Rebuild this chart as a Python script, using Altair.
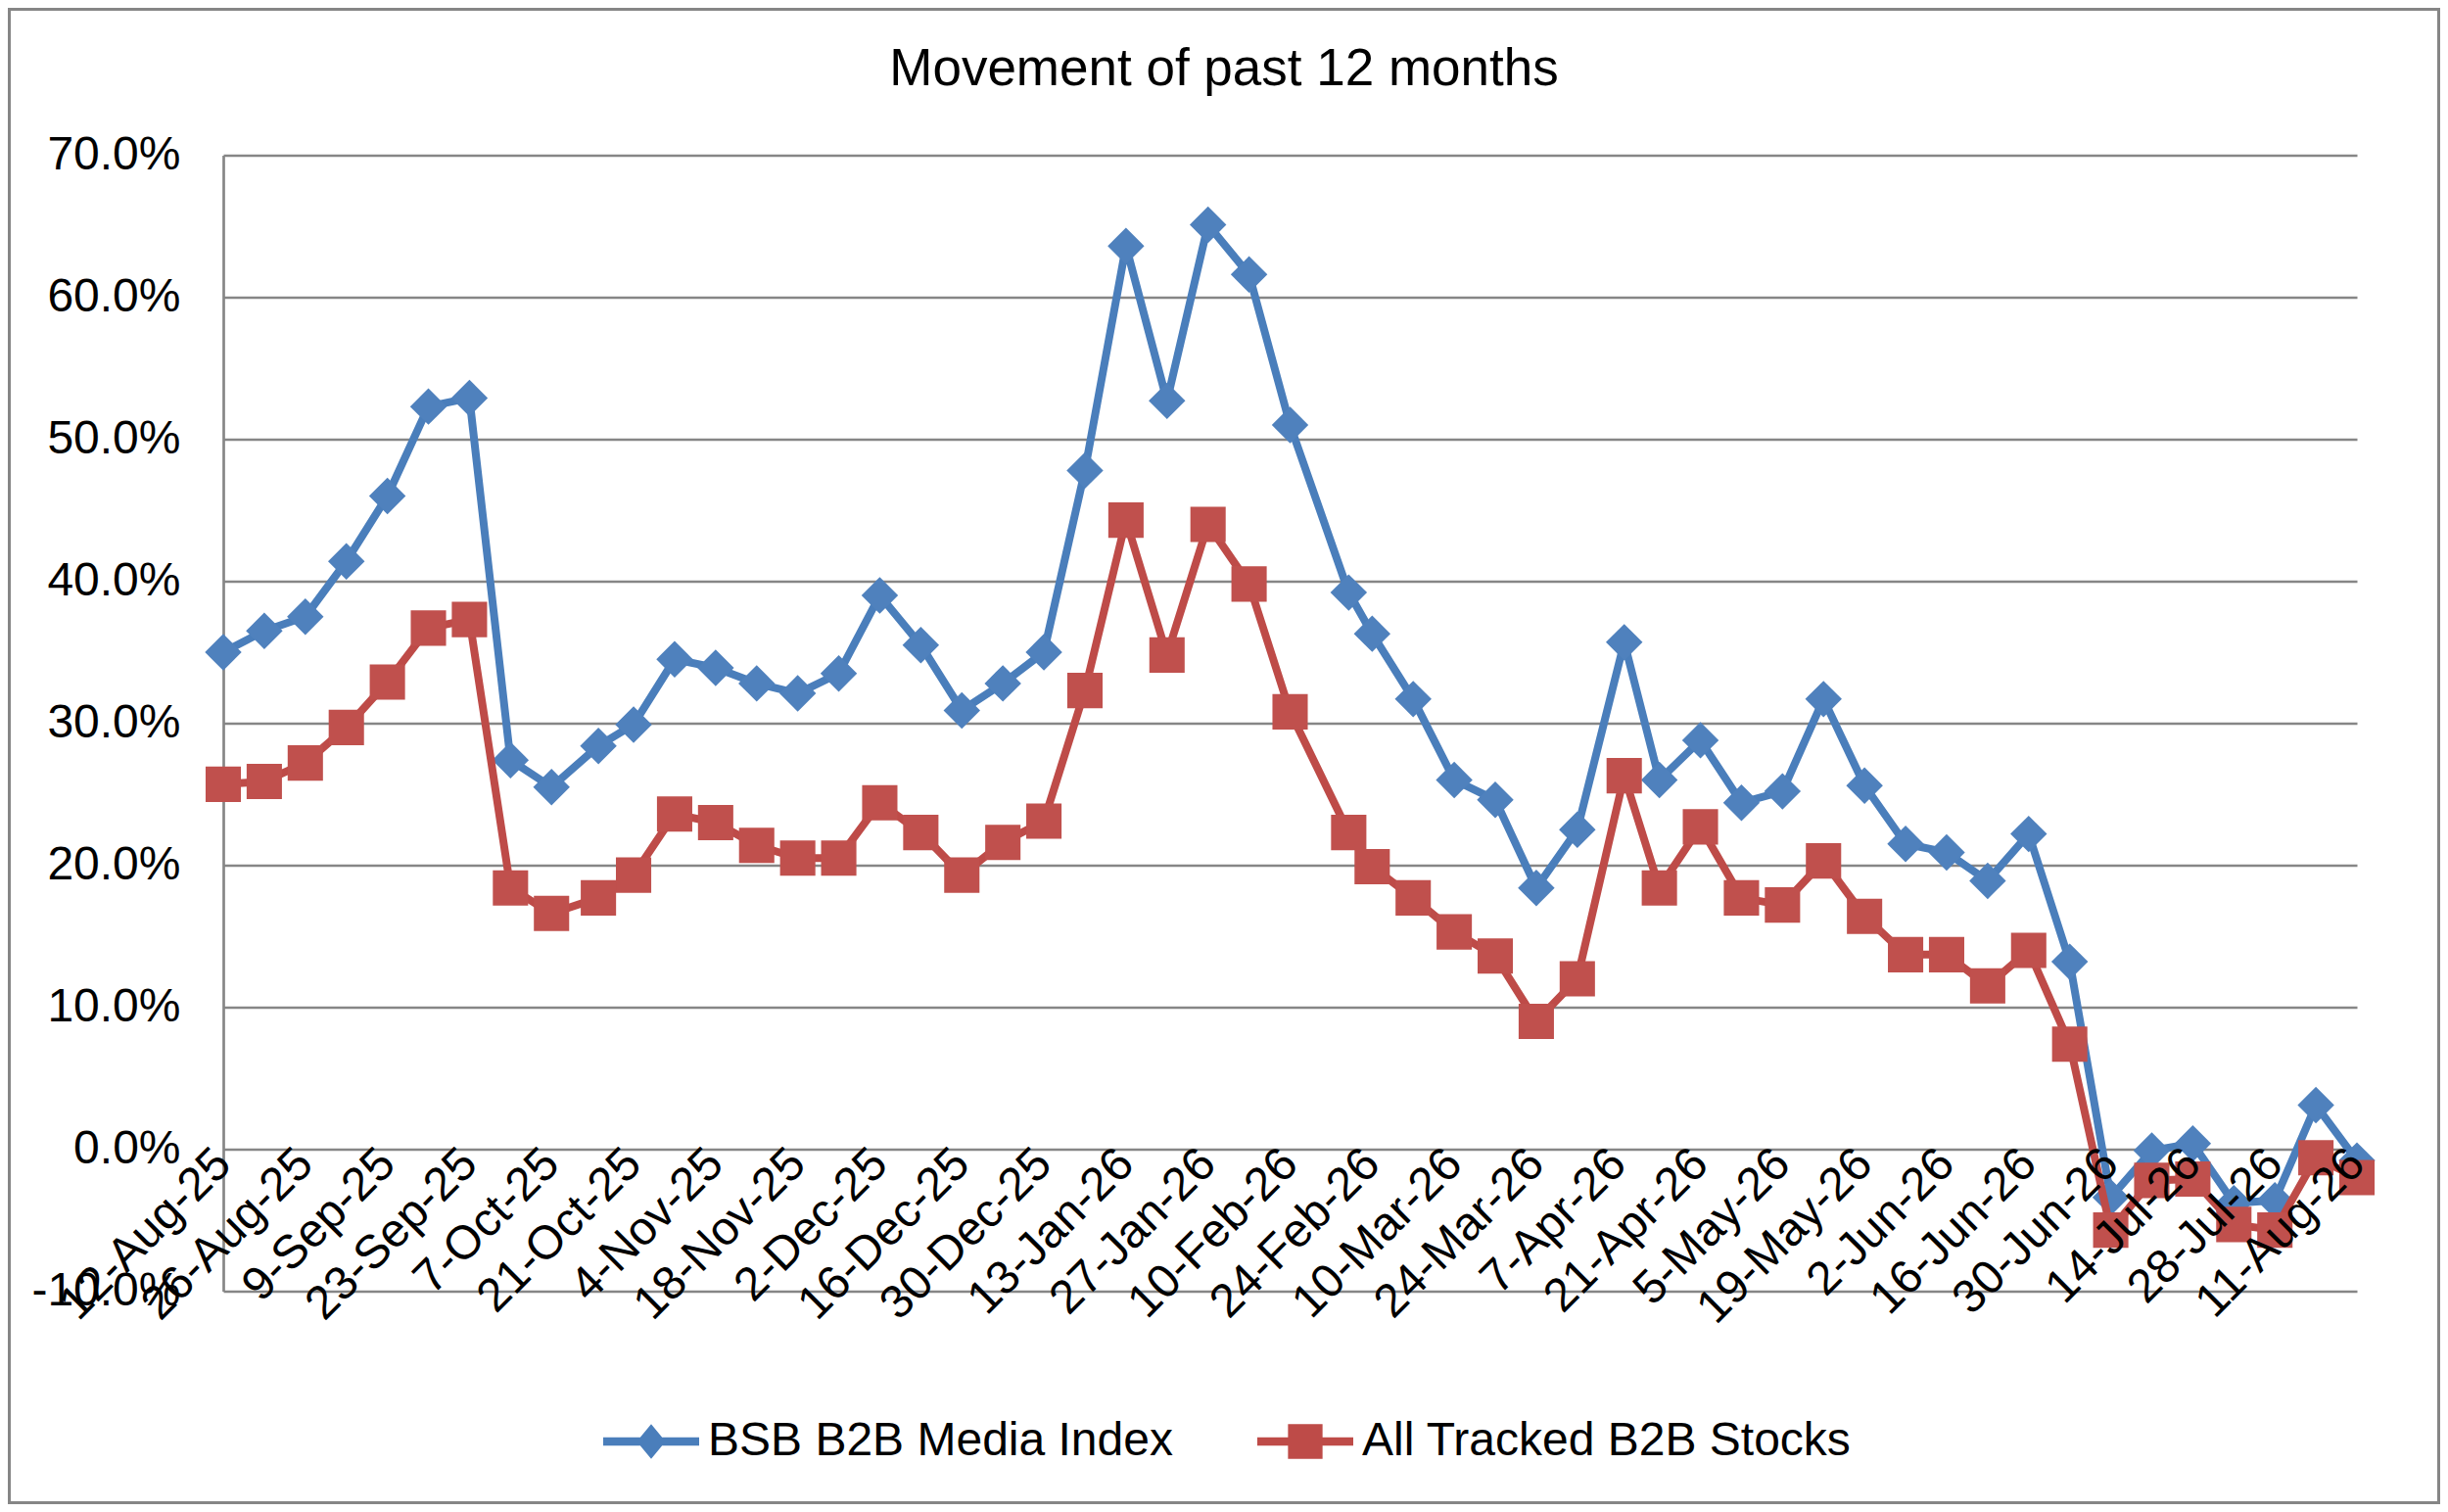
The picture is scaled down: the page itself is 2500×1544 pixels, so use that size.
import altair as alt
import pandas as pd

FONT = "Liberation Sans"
BLUE = "#4A7EBB"
RED = "#BE4B48"
GRID = "#868686"

chart_title = "Movement of past 12 months"
series_names = ["BSB B2B Media Index", "All Tracked B2B Stocks"]

dates = [
    "2025-08-12", "2025-08-19", "2025-08-26", "2025-09-02", "2025-09-09", "2025-09-16",
    "2025-09-23", "2025-09-30", "2025-10-07", "2025-10-15", "2025-10-21", "2025-10-28",
    "2025-11-04", "2025-11-11", "2025-11-18", "2025-11-25", "2025-12-02", "2025-12-09",
    "2025-12-16", "2025-12-23", "2025-12-30", "2026-01-06", "2026-01-13", "2026-01-20",
    "2026-01-27", "2026-02-03", "2026-02-10", "2026-02-20", "2026-02-24", "2026-03-03",
    "2026-03-10", "2026-03-17", "2026-03-24", "2026-03-31", "2026-04-08", "2026-04-14",
    "2026-04-21", "2026-04-28", "2026-05-05", "2026-05-12", "2026-05-19", "2026-05-26",
    "2026-06-02", "2026-06-09", "2026-06-16", "2026-06-23", "2026-06-30", "2026-07-07",
    "2026-07-14", "2026-07-21", "2026-07-28", "2026-08-04", "2026-08-11",
]

bsb_index = [
    35.0, 36.5, 37.5, 41.4, 46.0, 52.3, 52.9, 27.4, 25.5, 28.4,
    29.9, 34.5, 33.9, 32.8, 32.1, 33.5, 39.0, 35.5, 30.9, 32.8,
    35.0, 47.8, 63.6, 52.7, 65.1, 61.6, 51.0, 39.2, 36.3, 31.7,
    26.0, 24.6, 18.4, 22.5, 35.7, 26.0, 28.8, 24.4, 25.2, 31.7,
    25.6, 21.5, 20.9, 18.9, 22.2, 13.2, -3.4, -0.1, 0.4, -3.8,
    -3.6, 3.1, -0.8,
]

all_tracked = [
    25.7, 25.9, 27.2, 29.7, 32.9, 36.7, 37.3, 18.4, 16.6, 17.7,
    19.3, 23.6, 23.0, 21.4, 20.5, 20.5, 24.4, 22.3, 19.3, 21.6,
    23.1, 32.3, 44.3, 34.8, 44.0, 39.8, 30.8, 22.3, 19.9, 17.7,
    15.3, 13.6, 9.0, 12.0, 26.3, 18.4, 22.7, 17.7, 17.2, 20.3,
    16.4, 13.7, 13.7, 11.5, 14.0, 7.4, -5.7, -2.2, -2.1, -5.3,
    -5.7, -0.6, -2.0,
]

tick_dates = [
    "2025-08-12", "2025-08-26", "2025-09-09", "2025-09-23", "2025-10-07", "2025-10-21",
    "2025-11-04", "2025-11-18", "2025-12-02", "2025-12-16", "2025-12-30", "2026-01-13",
    "2026-01-27", "2026-02-10", "2026-02-24", "2026-03-10", "2026-03-24", "2026-04-07",
    "2026-04-21", "2026-05-05", "2026-05-19", "2026-06-02", "2026-06-16", "2026-06-30",
    "2026-07-14", "2026-07-28", "2026-08-11",
]

y_ticks = [-10, 0, 10, 20, 30, 40, 50, 60, 70]


def ms(d):
    return int(pd.Timestamp(d, tz="UTC").timestamp() * 1000)


df = pd.DataFrame({
    "date": dates + dates,
    "series": [series_names[0]] * len(dates) + [series_names[1]] * len(dates),
    "value": bsb_index + all_tracked,
})

W, H = 2179, 1160
PAD = {"left": 220, "top": 150.5, "right": 85, "bottom": 217.5}
FS = 48

x_enc = alt.X(
    "date:T",
    scale=alt.Scale(type="utc", domain=[ms(tick_dates[0]), ms(tick_dates[-1])], nice=False),
    axis=alt.Axis(
        values=[ms(d) for d in tick_dates],
        labelExpr="utcFormat(datum.value, '%-d-%b-%y')",
        labelAngle=-45, labelAlign="right", labelBaseline="middle",
        labelFontSize=FS, labelFont=FONT, labelColor="black", labelLimit=3000,
        labelPadding=8, labelOverlap=False, labelFlush=False, labelBound=False,
        ticks=False, tickSize=0, domain=False, grid=False, title=None,
        offset=-145.5, zindex=1,
    ),
)
y_enc = alt.Y(
    "value:Q",
    scale=alt.Scale(domain=[-10, 70], nice=False, zero=False),
    axis=alt.Axis(
        values=y_ticks,
        labelExpr="(datum.value < 0 ? '-' : '') + format(abs(datum.value), '.1f') + '%'",
        labelFontSize=FS, labelFont=FONT, labelColor="black", labelLimit=3000,
        labelPadding=44, labelFlush=False,
        ticks=False, tickSize=0, domain=True, domainColor=GRID, domainWidth=2.7,
        grid=True, gridColor=GRID, gridWidth=2.7, gridOpacity=1, title=None,
    ),
)

base = alt.Chart(df).encode(x=x_enc, y=y_enc)

DIAMOND = "M-1,0L0,-1L1,0L0,1Z"

blue_line = base.transform_filter(alt.datum.series == series_names[0]).mark_line(
    color=BLUE, strokeWidth=8, strokeJoin="round", strokeCap="round")
blue_pts = base.transform_filter(alt.datum.series == series_names[0]).mark_point(
    shape=DIAMOND, filled=True, size=1400, color="#4F81BD", opacity=1)
red_line = base.transform_filter(alt.datum.series == series_names[1]).mark_line(
    color=RED, strokeWidth=8, strokeJoin="round", strokeCap="round")
red_pts = base.transform_filter(alt.datum.series == series_names[1]).mark_point(
    shape="square", filled=True, size=1300, color="#C0504D", opacity=1)

leg_line = "M-1,-0.085H1V0.085H-1Z"
leg_diamond = "M-0.3,0L0,-0.36L0.3,0L0,0.36Z"
leg_square = "M-0.36,-0.36H0.36V0.36H-0.36Z"

legend_props = dict(
    orient="none", legendX=388, legendY=1264.5, direction="horizontal", title=None,
    labelFontSize=FS, labelFont=FONT, labelColor="black", labelLimit=3000,
    symbolSize=9604, symbolStrokeWidth=0, symbolOpacity=1, labelOffset=9,
    columnPadding=86, padding=0,
)

legend_layer = base.transform_filter("false").mark_point(
    filled=True, size=9604, opacity=1).encode(
    color=alt.Color("series:N", scale=alt.Scale(domain=series_names, range=[BLUE, RED]),
                    legend=alt.Legend(**legend_props)),
    shape=alt.Shape("series:N", scale=alt.Scale(domain=series_names,
                                                range=[leg_line + leg_diamond, leg_line + leg_square]),
                    legend=alt.Legend(**legend_props)),
)

frame = alt.Chart(alt.Data(values=[{"k": 1}])).mark_rect(
    filled=False, stroke=GRID, strokeWidth=3).encode(
    x=alt.value(-PAD["left"] + 1.5), x2=alt.value(W + PAD["right"] - 1.5),
    y=alt.value(-PAD["top"] + 1.5), y2=alt.value(H + PAD["bottom"] - 1.5),
)

title_layer = alt.Chart(alt.Data(values=[{"t": chart_title}])).mark_text(
    font=FONT, fontSize=53, color="black", align="center", baseline="alphabetic").encode(
    text="t:N", x=alt.value(1022), y=alt.value(-71.5),
)

chart = alt.layer(frame, title_layer, blue_line, blue_pts, red_line, red_pts, legend_layer).properties(
    width=W, height=H,
    padding=PAD,
    autosize=alt.AutoSizeParams(type="none"),
    background="white",
).configure_view(stroke=None)

chart.save("out.html", embed_options={"renderer": "svg", "actions": False})
